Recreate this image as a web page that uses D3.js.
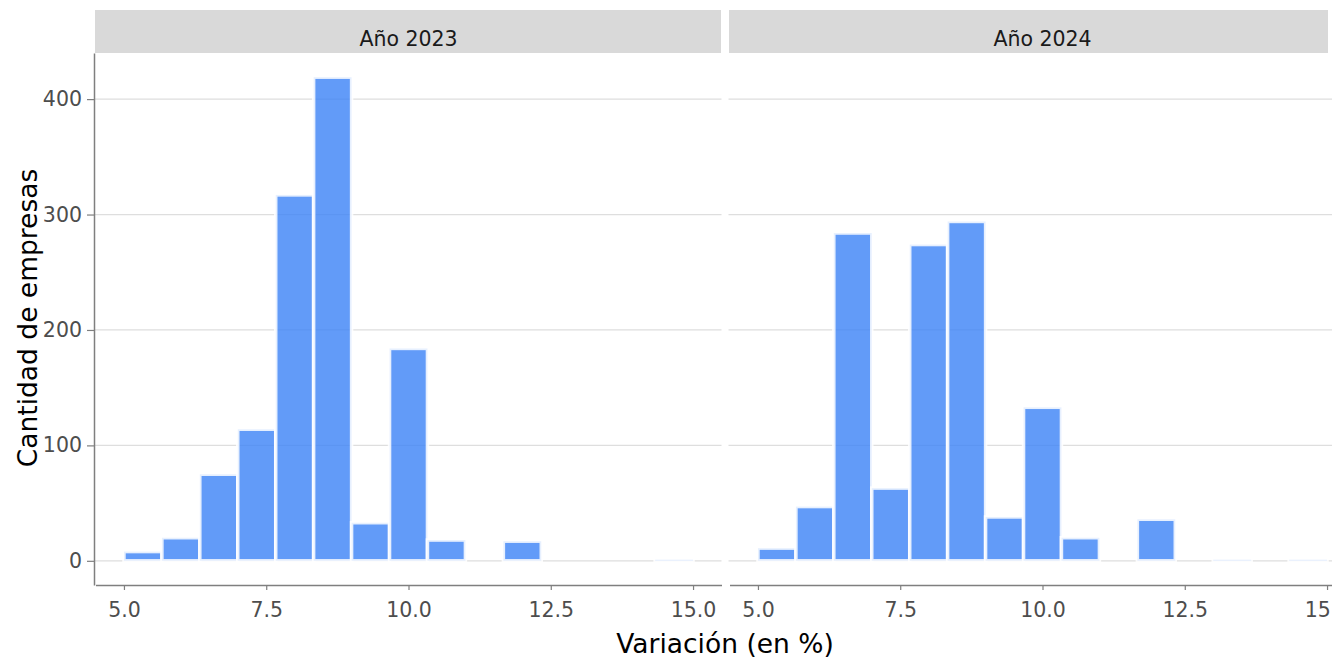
<!DOCTYPE html>
<html>
  <head>
    <meta http-equiv="Content-Type" content="text/html;charset=utf-8"/>
    <title>Variación por año</title>
    <script src="https://cdn.jsdelivr.net/npm/d3@7"></script>
    <style>
      body { margin: 0; background: #fff; overflow: hidden; }
      text { font-family: "DejaVu Sans", sans-serif; }
    </style>
  </head>
  <body>
    <svg id="target"></svg>
  </body>
  <script>
    // bordes de los intervalos del histograma (ancho 2/3)
    var binEdges = [5.00, 5.667, 6.333, 7.00, 7.667, 8.333, 9.00, 9.667, 10.333,
                    11.00, 11.667, 12.333, 13.00, 13.667, 14.333, 15.00];
    var counts2023 = [8, 20, 75, 114, 317, 419, 33, 184, 18, 0, 17, 0, 0, 0, 1];
    var counts2024 = [11, 47, 284, 63, 274, 294, 38, 133, 20, 0, 36, 0, 1, 0, 1];
    var panelTitles = ["Año 2023", "Año 2024"];
    var xTicks = [5, 7.5, 10, 12.5, 15];
    var yTicks = [0, 100, 200, 300, 400];

    var width = 1332;
    var height = 659;
    var plotTop = 53, plotBottom = 585;
    var target = d3.select( "#target" ).attr( "width", width ).attr( "height", height );

    var maxCount = d3.max( counts2023.concat( counts2024 ) );
    var yScale = d3.scaleLinear()
      .domain( [ -0.05 * maxCount, 1.05 * maxCount ] )
      .range( [ plotBottom, plotTop ] );

    var panels = [
      { title: panelTitles[0], counts: counts2023, x0: 95.5, strip: [ 95, 721 ] },
      { title: panelTitles[1], counts: counts2024, x0: 729.5, strip: [ 729, 1328 ] }
    ];

    panels.forEach( function( p ) {
      var xScale = d3.scaleLinear().domain( [ 4.5, 15.5 ] ).range( [ p.x0, p.x0 + 626 ] );
      var g = target.append( "g" );

      // strip
      g.append( "rect" )
        .attr( "x", p.strip[0] ).attr( "y", 10 )
        .attr( "width", p.strip[1] - p.strip[0] ).attr( "height", plotTop - 10 )
        .attr( "fill", "#d9d9d9" );
      g.append( "text" )
        .attr( "x", xScale( 10 ) ).attr( "y", 46 )
        .attr( "text-anchor", "middle" )
        .attr( "font-size", 20.5 ).attr( "fill", "#1a1a1a" )
        .text( p.title );

      // grid
      g.selectAll( "line.grid" ).data( yTicks )
        .enter().append( "line" )
          .attr( "class", "grid" )
          .attr( "x1", p.x0 - 1 ).attr( "x2", Math.min( p.x0 + 626, width ) )
          .attr( "y1", d => yScale( d ) ).attr( "y2", d => yScale( d ) )
          .attr( "stroke", "#dedede" ).attr( "stroke-width", 1.2 );

      // barras
      g.selectAll( "rect.bar" ).data( p.counts )
        .enter().append( "rect" )
          .attr( "class", "bar" )
          .attr( "x", ( d, i ) => xScale( binEdges[i] ) )
          .attr( "width", ( d, i ) => xScale( binEdges[i + 1] ) - xScale( binEdges[i] ) )
          .attr( "y", d => yScale( d ) )
          .attr( "height", d => yScale( 0 ) - yScale( d ) )
          .attr( "fill", "#3b82f6" ).attr( "fill-opacity", 0.8 )
          .attr( "stroke", "#ffffff" ).attr( "stroke-width", 3.5 ).attr( "stroke-opacity", 0.85 );

      // eje x
      var axisX = d3.axisBottom( xScale )
        .tickValues( xTicks )
        .tickFormat( d3.format( ".1f" ) )
        .tickSizeInner( 5 ).tickSizeOuter( 0 ).tickPadding( 12 );
      var gx = g.append( "g" )
        .attr( "transform", "translate(0," + plotBottom + ")" )
        .call( axisX );
      gx.select( ".domain" ).attr( "stroke", "#7f7f7f" ).attr( "stroke-width", 1.5 );
      gx.selectAll( ".tick line" ).attr( "stroke", "#7f7f7f" ).attr( "stroke-width", 1.2 );
      gx.selectAll( "text" ).attr( "font-size", 20.5 ).attr( "fill", "#4d4d4d" )
        .style( "font-family", "DejaVu Sans" );
    } );

    // eje y (solo panel izquierdo)
    var axisY = d3.axisLeft( yScale )
      .tickValues( yTicks )
      .tickSizeInner( 7 ).tickSizeOuter( 0 ).tickPadding( 5 );
    var gy = target.append( "g" )
      .attr( "transform", "translate(94,0)" )
      .call( axisY );
    gy.select( ".domain" ).attr( "stroke", "#7f7f7f" ).attr( "stroke-width", 1.5 );
    gy.selectAll( ".tick line" ).attr( "stroke", "#7f7f7f" ).attr( "stroke-width", 1.2 );
    gy.selectAll( "text" ).attr( "font-size", 20.5 ).attr( "fill", "#4d4d4d" )
      .style( "font-family", "DejaVu Sans" );

    // títulos
    target.append( "text" )
      .attr( "x", 725 ).attr( "y", 653 )
      .attr( "text-anchor", "middle" )
      .attr( "font-size", 26.5 ).attr( "fill", "#000" )
      .text( "Variación (en %)" );

    target.append( "text" )
      .attr( "transform", "translate(37,318) rotate(-90)" )
      .attr( "text-anchor", "middle" )
      .attr( "font-size", 26.5 ).attr( "fill", "#000" )
      .text( "Cantidad de empresas" );
  </script>
</html>
